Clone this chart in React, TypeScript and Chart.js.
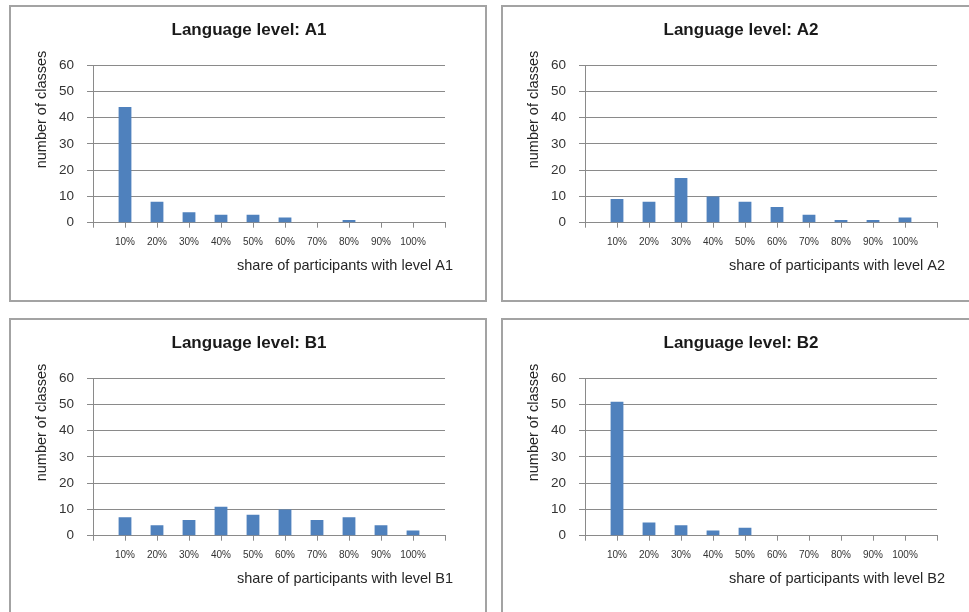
import React, { useEffect, useRef } from "react";
import { Chart, registerables } from "chart.js";

Chart.register(...registerables);

// ---- data ----
const CATEGORIES = ["10%", "20%", "30%", "40%", "50%", "60%", "70%", "80%", "90%", "100%"];
const Y_MIN = 0;
const Y_MAX = 60;
const Y_STEP = 10;
const LEVELS = ["A1", "A2", "B1", "B2"];
const A1_VALUES = [44, 8, 4, 3, 3, 2, 0, 1, 0, 0];
const A2_VALUES = [9, 8, 17, 10, 8, 6, 3, 1, 1, 2];
const B1_VALUES = [7, 4, 6, 11, 8, 10, 6, 7, 4, 2];
const B2_VALUES = [51, 5, 4, 2, 3, 0, 0, 0, 0, 0];
const Y_TITLE = "number of classes";
const X_TITLE_PREFIX = "share of participants with level ";
const TITLE_PREFIX = "Language level: ";

const PANEL_W = 478;
const PANEL_H = 297;
const FONT = '"Liberation Sans", Arial, sans-serif';
const BAR_COLOR = "#4F81BD";
const GRID_COLOR = "#8a8a8a";

const textPlugin = {
  id: "panelTexts",
  afterDraw(chart: any, _args: any, opts: any) {
    const ctx = chart.ctx;
    const { left, right, top, bottom } = chart.chartArea;
    // main title, centred on the whole panel
    ctx.save();
    ctx.fillStyle = "#1a1a1a";
    ctx.font = `bold 17px ${FONT}`;
    ctx.textAlign = "center";
    ctx.textBaseline = "middle";
    ctx.fillText(opts.title, chart.width / 2 + 1, top - 35);
    ctx.restore();

    // y axis title
    ctx.save();
    ctx.fillStyle = "#262626";
    ctx.font = `14.5px ${FONT}`;
    ctx.translate(left - 51, top + 44.5);
    ctx.rotate(-Math.PI / 2);
    ctx.textAlign = "center";
    ctx.textBaseline = "middle";
    ctx.fillText(opts.yTitle, 0, 0);
    ctx.restore();

    // x axis title
    ctx.save();
    ctx.fillStyle = "#262626";
    ctx.font = `14.5px ${FONT}`;
    ctx.textAlign = "right";
    ctx.textBaseline = "middle";
    ctx.fillText(opts.xTitle, right + 8, bottom + 43);
    ctx.restore();
  },
};

function Panel({ level, values, left, top }: { level: string; values: number[]; left: number; top: number }) {
  const ref = useRef<HTMLCanvasElement | null>(null);
  useEffect(() => {
    if (!ref.current) return;
    const labels = ["", ...CATEGORIES, ""];
    const data = [null, ...values, null];
    const chart = new Chart(ref.current, {
      type: "bar",
      data: {
        labels,
        datasets: [
          {
            data,
            backgroundColor: BAR_COLOR,
            borderWidth: 0,
            categoryPercentage: 1,
            barPercentage: 0.4,
          },
        ],
      },
      plugins: [textPlugin],
      options: {
        responsive: false,
        animation: false,
        devicePixelRatio: 1,
        layout: { padding: { left: 0, right: 42, top: 60, bottom: 0 } },
        plugins: {
          legend: { display: false },
          tooltip: { enabled: false },
          title: { display: false },
          panelTexts: {
            title: TITLE_PREFIX + level,
            yTitle: Y_TITLE,
            xTitle: X_TITLE_PREFIX + level,
          },
        } as any,
        scales: {
          x: {
            type: "category",
            offset: false,
            grid: {
              offset: false,
              display: true,
              drawOnChartArea: false,
              drawTicks: true,
              tickLength: 5,
              color: GRID_COLOR,
            },
            border: { display: true, color: GRID_COLOR, width: 1 },
            ticks: {
              autoSkip: false,
              maxRotation: 0,
              minRotation: 0,
              padding: 9,
              color: "#333333",
              font: { family: FONT, size: 10 },
            },
            afterFit(scale: any) {
              scale.height = 79.3;
            },
          },
          y: {
            min: Y_MIN,
            max: Y_MAX,
            ticks: {
              stepSize: Y_STEP,
              padding: 13,
              color: "#333333",
              font: { family: FONT, size: 13.5 },
            },
            grid: {
              color: GRID_COLOR,
              tickLength: 6,
              drawTicks: true,
            },
            border: { display: true, color: GRID_COLOR, width: 1 },
            afterFit(scale: any) {
              scale.width = 84;
            },
          },
        },
      } as any,
    });
    return () => chart.destroy();
  }, [level, values]);

  return (
    <>
      <div
        style={{
          position: "absolute",
          left,
          top,
          width: PANEL_W,
          height: PANEL_H,
          boxSizing: "border-box",
          border: "2px solid #a3a3a3",
          background: "#ffffff",
        }}
      />
      <canvas
        ref={ref}
        width={PANEL_W}
        height={PANEL_H}
        style={{ position: "absolute", left, top, width: PANEL_W, height: PANEL_H }}
      />
    </>
  );
}

export default function App() {
  const series = [A1_VALUES, A2_VALUES, B1_VALUES, B2_VALUES];
  const positions = [
    { left: 9, top: 5 },
    { left: 501, top: 5 },
    { left: 9, top: 318 },
    { left: 501, top: 318 },
  ];
  return (
    <div
      style={{
        position: "fixed",
        left: 0,
        top: 0,
        width: "100vw",
        height: "100vh",
        overflow: "hidden",
        background: "#ffffff",
      }}
    >
      {LEVELS.map((lv, i) => (
        <Panel key={lv} level={lv} values={series[i]} left={positions[i].left} top={positions[i].top} />
      ))}
    </div>
  );
}
